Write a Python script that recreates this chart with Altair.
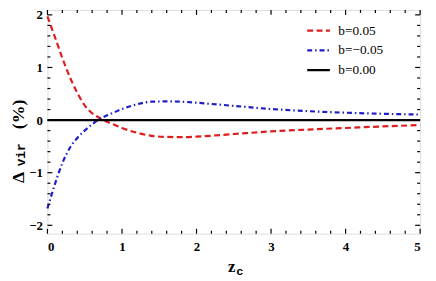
import altair as alt
import pandas as pd

# ---- data ----
z = [0.0, 0.1, 0.2, 0.3, 0.4, 0.5, 0.6, 0.7, 0.8, 0.9, 1.0, 1.2, 1.4, 1.6, 1.8,
     2.0, 2.5, 3.0, 3.5, 4.0, 4.5, 5.0]
red = [1.97, 1.58, 1.18, 0.82, 0.52, 0.28, 0.13, 0.04, -0.03, -0.09, -0.15,
       -0.24, -0.30, -0.32, -0.325, -0.315, -0.265, -0.215, -0.18, -0.15, -0.12, -0.095]
blue = [-1.68, -1.22, -0.82, -0.53, -0.34, -0.20, -0.08, 0.02, 0.09, 0.15, 0.21,
        0.30, 0.35, 0.355, 0.35, 0.33, 0.27, 0.21, 0.17, 0.14, 0.12, 0.105]
zero = [0.0] * len(z)

series_names = ["b=0.05", "b=\u22120.05", "b=0.00"]
colors = ["#dd1c1c", "#1c1cc8", "#000000"]
dashes = [[6, 3.5], [5, 3, 1.5, 3], [1, 0]]

x_major = [0, 1, 2, 3, 4, 5]
x_minor = [0.2, 0.4, 0.6, 0.8, 1.2, 1.4, 1.6, 1.8, 2.2, 2.4, 2.6, 2.8,
           3.2, 3.4, 3.6, 3.8, 4.2, 4.4, 4.6, 4.8]
y_major = [-2, -1, 0, 1, 2]
y_minor = [-1.8, -1.6, -1.4, -1.2, -0.8, -0.6, -0.4, -0.2, 0.2, 0.4, 0.6, 0.8,
           1.2, 1.4, 1.6, 1.8]

rows = []
for name, vals in zip(series_names, [red, blue, zero]):
    for zi, vi in zip(z, vals):
        rows.append({"z": zi, "v": vi, "series": name})
df = pd.DataFrame(rows)

W, H = 378, 227
xs = alt.Scale(domain=[0, 5], nice=False, zero=False)
ys = alt.Scale(domain=[-2.16, 2.094], nice=False, zero=False)

label_font = "Liberation Serif"

x_axis = alt.Axis(
    values=x_major, ticks=False, domain=False, grid=False, title=None,
    format="d", labelFont=label_font, labelFontWeight="bold",
    labelFontSize=13, labelColor="black", labelPadding=7)
y_axis = alt.Axis(
    values=y_major, ticks=False, domain=False, grid=False, title=None,
    format="d", labelFont=label_font, labelFontWeight="bold",
    labelFontSize=13, labelColor="black", labelPadding=5)

legend = alt.Legend(
    title=None, orient="none", legendX=262, legendY=8, padding=0,
    symbolType="stroke", symbolSize=529, symbolStrokeWidth=2.4,
    labelFont=label_font, labelFontSize=13.5, labelColor="black",
    labelOffset=7, rowPadding=0,
)

lines = alt.Chart(df).mark_line(strokeWidth=2.2, interpolate="monotone").encode(
    x=alt.X("z:Q", scale=xs, axis=x_axis),
    y=alt.Y("v:Q", scale=ys, axis=y_axis),
    color=alt.Color("series:N", scale=alt.Scale(domain=series_names, range=colors),
                    legend=legend),
    strokeDash=alt.StrokeDash("series:N", scale=alt.Scale(domain=series_names, range=dashes),
                              legend=legend),
)


def xticks(vals, length):
    d = pd.DataFrame({"z": vals})
    bottom = alt.Chart(d).mark_rule(color="black", strokeWidth=1.2).encode(
        x=alt.X("z:Q", scale=xs, axis=x_axis), y=alt.value(H), y2=alt.value(H - length))
    top = alt.Chart(d).mark_rule(color="black", strokeWidth=1.2).encode(
        x=alt.X("z:Q", scale=xs, axis=x_axis), y=alt.value(0), y2=alt.value(length))
    return [bottom, top]


def yticks(vals, length):
    d = pd.DataFrame({"v": vals})
    left = alt.Chart(d).mark_rule(color="black", strokeWidth=1.2).encode(
        y=alt.Y("v:Q", scale=ys, axis=y_axis), x=alt.value(0), x2=alt.value(length))
    right = alt.Chart(d).mark_rule(color="black", strokeWidth=1.2).encode(
        y=alt.Y("v:Q", scale=ys, axis=y_axis), x=alt.value(W), x2=alt.value(W - length))
    return [left, right]


def label(txt, x, y, size, font=label_font, weight="bold", angle=0):
    return alt.Chart(pd.DataFrame({"s": [txt]})).mark_text(
        font=font, fontSize=size, fontWeight=weight, color="black",
        angle=angle, align="center", baseline="middle"
    ).encode(text="s:N", x=alt.value(x), y=alt.value(y))


titles = [
    label("z", 187, 261, 17),
    label("c", 195, 265, 12, font="Liberation Mono"),
    label("\u0394", -29, 170, 18, angle=270),
    label("vir", -27, 147, 13, font="Liberation Mono", angle=270),
    label("(%)", -29, 106, 18, angle=270),
]

layers = [lines] + xticks(x_major, 5) + xticks(x_minor, 3) + \
    yticks(y_major, 5) + yticks(y_minor, 3) + titles

chart = alt.layer(*layers).properties(
    width=W, height=H,
    padding={"left": 40, "top": 0, "right": 8, "bottom": 46},
    autosize=alt.AutoSizeParams(type="none"),
).configure_view(stroke="black", strokeWidth=1.6).configure(background="white")

chart.save("out.html", embed_options={"renderer": "svg", "actions": False})
